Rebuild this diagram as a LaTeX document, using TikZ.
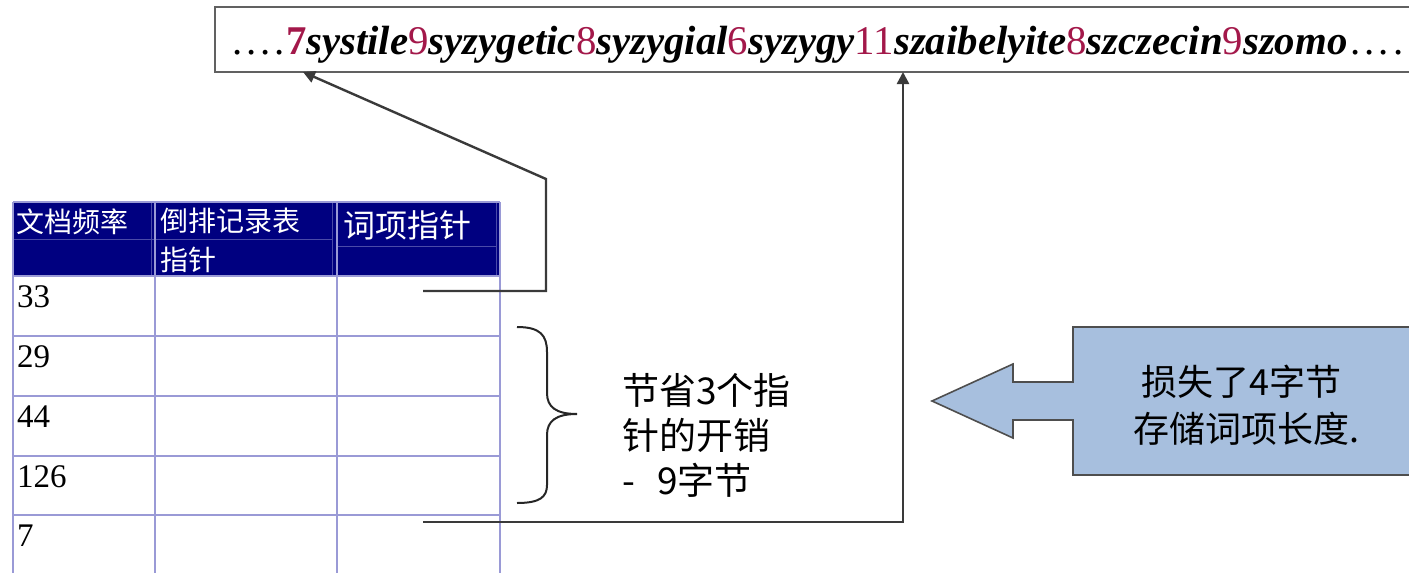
\documentclass[tikz,border=0pt]{standalone}
\usepackage{fontspec}
\setmainfont{Liberation Serif}
\newfontfamily\cjk{Noto Sans CJK SC}
\usetikzlibrary{arrows.meta}
\definecolor{navy}{HTML}{000080}
\definecolor{gridc}{HTML}{9A9AD6}
\definecolor{hdrline}{HTML}{4A4AA8}
\definecolor{numred}{HTML}{A3184A}
\definecolor{callout}{HTML}{A7BFDE}
\definecolor{conn}{HTML}{3A3A3A}
\tikzset{
  hdr/.style={inner sep=0pt, text=white, font=\cjk\fontsize{28}{32}\selectfont},
  num/.style={inner sep=0pt, font=\fontsize{33}{36}\selectfont},
  gridline/.style={draw=gridc, line width=1.6pt},
  connector/.style={draw=conn, line width=2.4pt, -{Triangle[length=12pt,width=12pt]}},
  savetext/.style={inner sep=0pt, anchor=west, font=\cjk\fontsize{37}{44}\selectfont},
  calltext/.style={inner sep=0pt, font=\cjk\fontsize{36}{44}\selectfont},
}
\newcommand{\rn}[1]{\textcolor{numred}{#1}}
\newcommand{\wrd}[1]{\textbf{\textit{#1}}}
\begin{document}
\begin{tikzpicture}[x=1pt,y=-1pt]
\useasboundingbox (0,0) rectangle (1409,573);
\clip (0,0) rectangle (1409,573);
% top string box
\draw[draw=conn!80, line width=2pt] (215,7) rectangle (1430,72);
\node[inner sep=0pt, anchor=base west, font=\fontsize{40.8}{44}\selectfont] (str) at (232,54)
 {.\kern4pt.\kern4pt.\kern4pt.\kern1pt\rn{\textbf{7}}\wrd{systile}\rn{9}\wrd{syzygetic}\rn{8}\wrd{syzygial}\rn{6}\wrd{syzygy}\rn{11}\wrd{szaibelyite}\rn{8}\wrd{szczecin}\rn{9}\wrd{szomo}\kern3pt.\kern4pt.\kern4pt.\kern4pt.};
\coordinate (t1) at (303,72);
\coordinate (t2) at (903,72);
% table header
\fill[navy] (13,202) rectangle (500,276);
\draw[hdrline, line width=1pt] (13,239) -- (332,239) (337,246) -- (497,246)
  (151,202) -- (151,276) (332,202) -- (332,276) (496,202) -- (496,276);
% grid
\foreach \x in {13,155,337,500} \draw[gridline] (\x,202) -- (\x,580);
\foreach \y in {202,276,336,396,456,515} \draw[gridline] (13,\y) -- (500,\y);
\node[hdr, anchor=west] (h1) at (16,222) {文档频率};
\node[hdr, anchor=west] (h2) at (160,221) {倒排记录表};
\node[hdr, anchor=west] (h2b) at (160,260) {指针};
\node[hdr, anchor=west, font=\cjk\fontsize{32}{36}\selectfont] (h3) at (343,225) {词项指针};
\node[num, anchor=base west] (n1) at (17,307) {33};
\node[num, anchor=base west] (n2) at (17,367) {29};
\node[num, anchor=base west] (n3) at (17,427) {44};
\node[num, anchor=base west] (n4) at (17,487) {126};
\node[num, anchor=base west] (n5) at (17,546) {7};
% connectors
\coordinate (p1) at (423,291);
\coordinate (p2) at (423,522);
\draw[connector] (p1) -- (546,291) -- (546,179) -- (t1);
\draw[connector] (p2) -- (903,522) -- (t2);
% brace
\draw[line width=2pt, black!85] (517,327) .. controls (540,327) and (547,335) .. (547,352)
  -- (547,393) .. controls (547,407) and (556,414) .. (577,414)
  .. controls (556,414) and (547,421) .. (547,435)
  -- (547,485) .. controls (547,497) and (540,503) .. (517,503);
\node[savetext] (s1) at (622,390) {节省3个指};
\node[savetext] (s2) at (622,435) {针的开销};
\node[savetext] (s3) at (622,480) {-\kern22pt 9字节};
% callout arrow
\draw[fill=callout, draw=conn!90, line width=1.6pt]
  (1430,327) -- (1073,327) -- (1073,382) -- (1013,382) -- (1013,364) -- (932,401)
  -- (1013,438) -- (1013,420) -- (1073,420) -- (1073,475) -- (1430,475);
\node[calltext] (c1) at (1241,382) {损失了4字节};
\node[calltext] (c2) at (1246,429) {存储词项长度.};
\end{tikzpicture}
\end{document}
